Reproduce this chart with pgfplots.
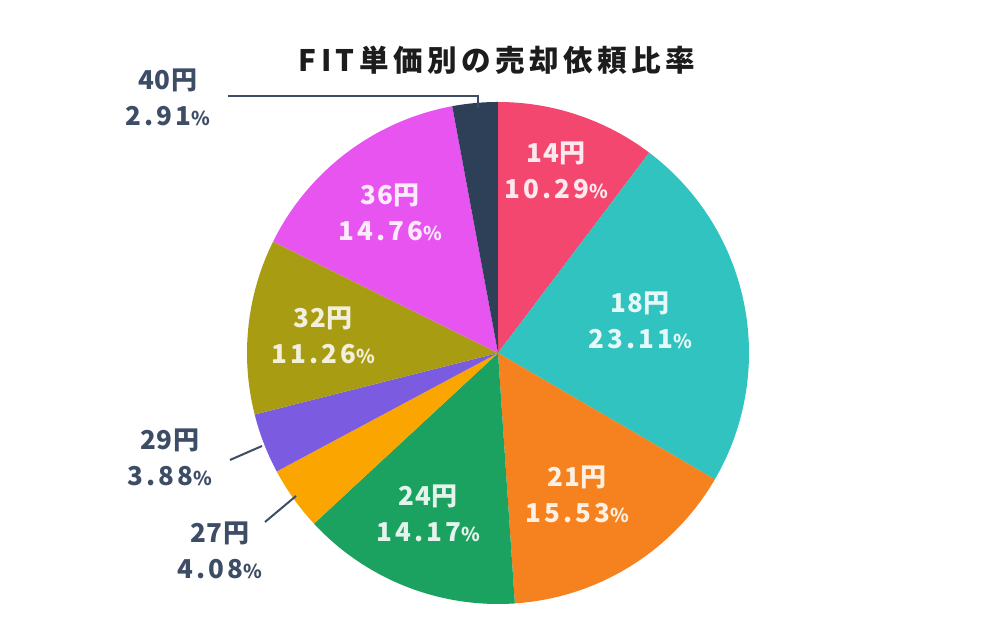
\documentclass[border=0pt]{standalone}
\usepackage{fontspec}
\usepackage{pgfplots}
\pgfplotsset{compat=1.18}
\newfontfamily\jp[LetterSpace=12]{Noto Sans CJK JP}
\newfontfamily\jpt[LetterSpace=15]{Noto Sans CJK JP}
\newfontfamily\jpn[LetterSpace=3]{Noto Sans CJK JP}
\definecolor{cPink}{HTML}{F4476F}
\definecolor{cTeal}{HTML}{30C3BF}
\definecolor{cOrange}{HTML}{F5821E}
\definecolor{cGreen}{HTML}{1BA260}
\definecolor{cAmber}{HTML}{FAA500}
\definecolor{cPurple}{HTML}{7B5BE0}
\definecolor{cOlive}{HTML}{A89D12}
\definecolor{cMagenta}{HTML}{E754F0}
\definecolor{cNavy}{HTML}{2E4057}
\definecolor{cLabel}{HTML}{3E4D66}
\definecolor{cTitle}{HTML}{1C1C1C}
\newcommand\pct{{\fontsize{9.5}{9.5}\selectfont\%}}
\newcommand\lab[2]{{\jpn #1}\\#2\pct}
\xdef\cum{0}
\newcommand\slice[2]{%
  \pgfmathsetmacro\sa{\cum*3.6}%
  \pgfmathsetmacro\sb{(\cum+#1)*3.6}%
  \edef\temp{\noexpand\addplot[fill=#2, draw=none, domain=\sa:\sb, samples=90]
    ({498+251*sin(x)},{287+251*cos(x)}) -- (axis cs:498,287) -- cycle;}%
  \temp
  \pgfmathsetmacro\newcum{\cum+#1}\xdef\cum{\newcum}%
}
\begin{document}
\begin{tikzpicture}
\begin{axis}[x=0.5pt, y=0.5pt, xmin=0, xmax=1000, ymin=0, ymax=640,
  hide axis, clip=false]
\path (axis cs:0,0) rectangle (axis cs:1000,640);
\slice{10.29}{cPink}
\slice{23.11}{cTeal}
\slice{15.53}{cOrange}
\slice{14.17}{cGreen}
\slice{4.08}{cAmber}
\slice{3.88}{cPurple}
\slice{11.26}{cOlive}
\slice{14.76}{cMagenta}
\slice{2.91}{cNavy}
% leader lines
\addplot[cLabel, line width=1pt] coordinates {(228,544) (478,544) (478,532)};
\addplot[cLabel, line width=1pt] coordinates {(230,180) (262,194)};
\addplot[cLabel, line width=1pt] coordinates {(265,118) (296,144)};
% title
\node[font=\jpt\bfseries\fontsize{14.8}{18}\selectfont, text=cTitle] at (axis cs:497,580) {FIT単価別の売却依頼比率};
% inside labels
\tikzset{inl/.style={font=\jp\bfseries\fontsize{13}{18}\selectfont, align=center}}
\node[inl, text=white!88!cPink] at (axis cs:556,470) {\lab{14円}{10.29}};
\node[inl, text=white!88!cTeal] at (axis cs:640,320) {\lab{18円}{23.11}};
\node[inl, text=white!88!cOrange] at (axis cs:577,146) {\lab{21円}{15.53}};
\node[inl, text=white!88!cGreen] at (axis cs:428,127) {\lab{24円}{14.17}};
\node[inl, text=white!85!cOlive] at (axis cs:323,305) {\lab{32円}{11.26}};
\node[inl, text=white!88!cMagenta] at (axis cs:390,428) {\lab{36円}{14.76}};
% outside labels
\node[inl, text=cLabel] at (axis cs:168,543) {\lab{40円}{2.91}};
\node[inl, text=cLabel] at (axis cs:170,183) {\lab{29円}{3.88}};
\node[inl, text=cLabel] at (axis cs:220,90) {\lab{27円}{4.08}};
\end{axis}
\end{tikzpicture}
\end{document}
